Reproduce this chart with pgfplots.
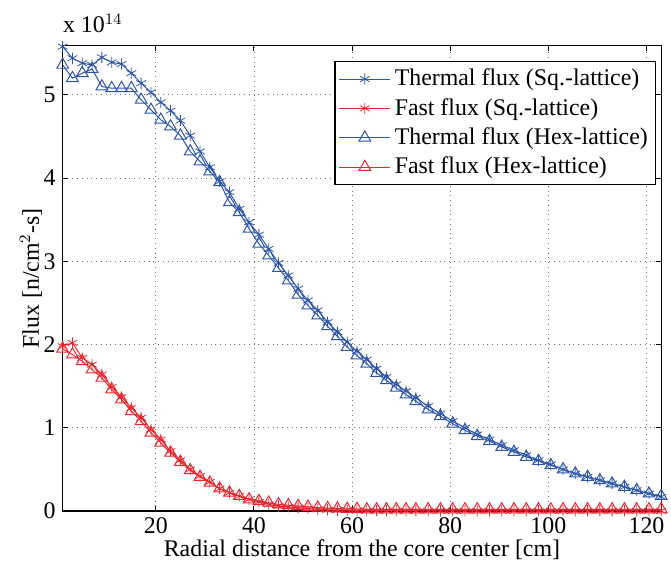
\documentclass[border=0pt]{standalone}
\usepackage{fontspec}
\setmainfont{Liberation Serif}
\usepackage{pgfplots}
\usepackage{pgfplotstable}
\pgfplotsset{compat=1.18}
\definecolor{thblue}{RGB}{45,85,170}
\definecolor{fsred}{RGB}{236,36,46}
\newcommand{\figfont}{\rmfamily\fontsize{12}{14}\selectfont}

% flux in units of 1e14 n/cm^2-s
\pgfplotstableread{
x     sqT   sqF    hxT   hxF
1     5.58  1.98   5.36  1.95
3     5.44  2.02   5.20  1.88
5     5.38  1.84   5.26  1.80
7     5.36  1.76   5.31  1.70
9     5.45  1.64   5.10  1.60
11    5.39  1.49   5.08  1.46
13    5.37  1.37   5.08  1.34
15    5.26  1.24   5.08  1.20
17    5.14  1.12   4.94  1.08
19    5.03  0.98   4.82  0.94
21    4.91  0.86   4.70  0.82
23    4.81  0.72   4.62  0.70
25    4.69  0.61   4.51  0.59
27    4.51  0.50   4.32  0.49
29    4.32  0.42   4.20  0.41
31    4.13  0.35   4.08  0.34
33    3.96  0.27   3.95  0.27
35    3.83  0.22   3.71  0.22
37    3.63  0.18   3.59  0.18
39    3.47  0.14   3.39  0.14
41    3.32  0.11   3.21  0.12
43    3.15  0.08   3.07  0.10
45    2.98  0.06   2.92  0.08
47    2.83  0.05   2.77  0.07
49    2.67  0.04   2.60  0.06
51    2.53  0.03   2.47  0.05
53    2.41  0.02   2.35  0.04
55    2.27  0.015  2.22  0.035
57    2.15  0.01   2.10  0.03
59    2.03  0.01   1.97  0.025
61    1.92  0.005  1.87  0.025
63    1.82  0.005  1.77  0.02
65    1.71  0.005  1.66  0.02
67    1.61  0.004  1.57  0.02
69    1.52  0.004  1.48  0.02
71    1.44  0.004  1.40  0.02
73    1.36  0.004  1.32  0.02
75.5  1.26  0.003  1.22  0.02
78    1.17  0.003  1.14  0.02
80.5  1.08  0.003  1.05  0.02
83    1.00  0.003  0.97  0.02
85.5  0.92  0.003  0.90  0.02
88    0.86  0.003  0.84  0.02
90.5  0.79  0.003  0.77  0.02
93    0.73  0.003  0.71  0.02
95.5  0.67  0.003  0.65  0.02
98    0.61  0.003  0.60  0.02
100.5 0.56  0.003  0.55  0.02
103   0.50  0.003  0.50  0.02
105.5 0.45  0.003  0.45  0.02
108   0.41  0.003  0.41  0.02
110.5 0.37  0.003  0.37  0.02
113   0.33  0.003  0.33  0.02
115.5 0.29  0.003  0.29  0.02
118   0.25  0.003  0.25  0.02
120.5 0.21  0.003  0.21  0.02
123   0.17  0.003  0.18  0.02
}\fluxdata

\begin{document}
\begin{tikzpicture}
\begin{axis}[
    name=main,
    scale only axis,
    width=301pt, height=234pt,
    xmin=1, xmax=123, ymin=0, ymax=5.59,
    xtick={20,40,...,120}, ytick={0,1,...,5},
    xticklabels={20,40,60,80,100,120},
    yticklabels={0,1,2,3,4,5},
    grid=major,
    grid style={dotted, black!55, line width=0.4pt},
    tick align=inside,
    major tick length=2.5pt,
    tick style={black, line width=0.5pt},
    axis line style={line width=0.6pt},
    tick label style={font=\figfont},
    label style={font=\figfont},
    xlabel={Radial distance from the core center [cm]},
    ylabel={Flux [n/cm$^2$-s]},
    xlabel style={yshift=4pt},
    ylabel style={yshift=-6pt},
    legend style={
        at={(0.992,0.968)}, anchor=north east,
        font=\figfont,
        draw=black, line width=0.6pt,
        row sep=0.8pt, inner sep=2pt,
    },
    legend cell align=left,
    legend image post style={line width=0.5pt},
    legend image code/.code={
        \draw[mark repeat=2,mark phase=2]
        plot coordinates {(0cm,0cm) (0.45cm,0cm) (0.9cm,0cm)};
    },
]

\addplot[thblue, line width=0.5pt, mark=asterisk, mark size=2.8pt,
    mark options={line width=0.4pt}] table[x=x, y=sqT] {\fluxdata};
\addlegendentry{Thermal flux (Sq.-lattice)}

\addplot[fsred, line width=0.5pt, mark=asterisk, mark size=2.8pt,
    mark options={line width=0.4pt}] table[x=x, y=sqF] {\fluxdata};
\addlegendentry{Fast flux (Sq.-lattice)}

\addplot[thblue, line width=0.5pt, mark=triangle, mark size=3.4pt,
    mark options={line width=0.5pt}] table[x=x, y=hxT] {\fluxdata};
\addlegendentry{Thermal flux (Hex-lattice)}

\addplot[fsred, line width=0.5pt, mark=triangle, mark size=3.4pt,
    mark options={line width=0.5pt}] table[x=x, y=hxF] {\fluxdata};
\addlegendentry{Fast flux (Hex-lattice)}
\end{axis}
\node[anchor=base west, inner sep=0pt, font=\figfont]
    at ([yshift=6.5pt]main.north west) {x 10$^{14}$};
% keep the margins of the reference round the axis box
\useasboundingbox ([xshift=-31.5pt,yshift=-27.5pt]main.south west)
    rectangle ([xshift=3pt,yshift=23pt]main.north east);
\end{tikzpicture}
\end{document}
